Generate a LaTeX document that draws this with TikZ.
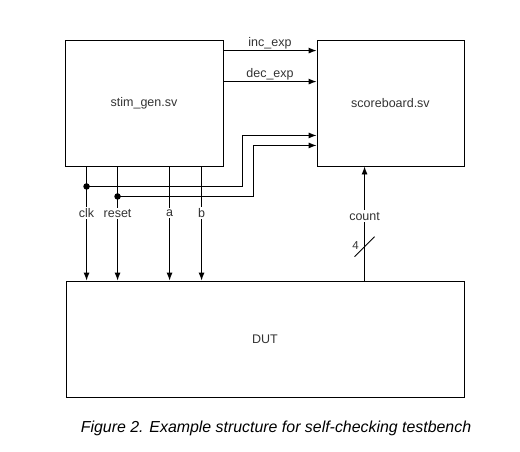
\documentclass[tikz,border=0pt]{standalone}
\usepackage{fontspec}
\setmainfont{Liberation Sans}
\usetikzlibrary{arrows.meta}
\definecolor{txtgray}{HTML}{333333}
\tikzset{
  blk/.style={draw,line width=0.9pt,text=txtgray},
  sig/.style={-{Latex[length=8pt,width=6pt]},line width=0.9pt},
  lbl/.style={fill=white,inner sep=1.5pt,text=txtgray},
  tap/.style={circle,fill,inner sep=0pt,minimum size=6.5pt}
}
\begin{document}
\begin{tikzpicture}[x=1pt,y=-1pt,font=\fontsize{12.5}{15}\selectfont]
\useasboundingbox (0,0) rectangle (520,451);
%blocks
\node[blk,minimum width=158pt,minimum height=126pt](stim) at (144,103){stim\_gen.sv};
\node[blk,minimum width=147pt,minimum height=126pt](score) at (390.5,103){scoreboard.sv};
\node[blk,minimum width=398pt,minimum height=116pt](dut) at (265,339){DUT};
%expected values
\draw[sig] ([yshift=-11pt]stim.north east) coordinate(incS) -- node[above,text=txtgray,inner sep=1pt]{inc\_exp} (incS -| score.west);
\draw[sig] ([yshift=-42pt]stim.north east) coordinate(decS) -- node[above,text=txtgray,inner sep=1pt]{dec\_exp} (decS -| score.west);
%inputs of the dut
\coordinate (clkS) at ([xshift=22pt]stim.south west);
\coordinate (rstS) at ([xshift=53pt]stim.south west);
\coordinate (aS) at ([xshift=105pt]stim.south west);
\coordinate (bS) at ([xshift=137pt]stim.south west);
\draw[sig] (aS) -- node[pos=0.41,lbl]{a} (aS |- dut.north);
\draw[sig] (bS) -- node[pos=0.41,lbl]{b} (bS |- dut.north);
\node[tap](clkT) at ([yshift=-20pt]clkS){};
\node[tap](rstT) at ([yshift=-30pt]rstS){};
\draw[sig] (clkT.center) -| ++(156,-51) coordinate(clkUp) -- (clkUp -| score.west);
\draw[sig] (rstT.center) -| ++(136,-51) coordinate(rstUp) -- (rstUp -| score.west);
\draw[sig] (clkS) -- node[pos=0.41,lbl]{clk} (clkS |- dut.north);
\draw[sig] (rstS) -- node[pos=0.41,lbl]{reset} (rstS |- dut.north);
%count bus
\coordinate (cntS) at ([xshift=48pt]score.south west);
\draw[sig] (cntS |- dut.north) -- node[pos=0.565,lbl]{count} coordinate[pos=0.296](busM) (cntS);
\draw[line width=0.9pt] (busM) ++(-10,10) -- ++(20,-20);
\node[text=txtgray,inner sep=0pt,font=\fontsize{11.5}{14}\selectfont](bw) at ([xshift=-9pt,yshift=1pt]busM){4};
%caption
\node[font=\itshape\fontsize{15.9}{19}\selectfont](cap) at (276,428){Figure 2. Example structure for self-checking testbench};
\end{tikzpicture}
\end{document}
